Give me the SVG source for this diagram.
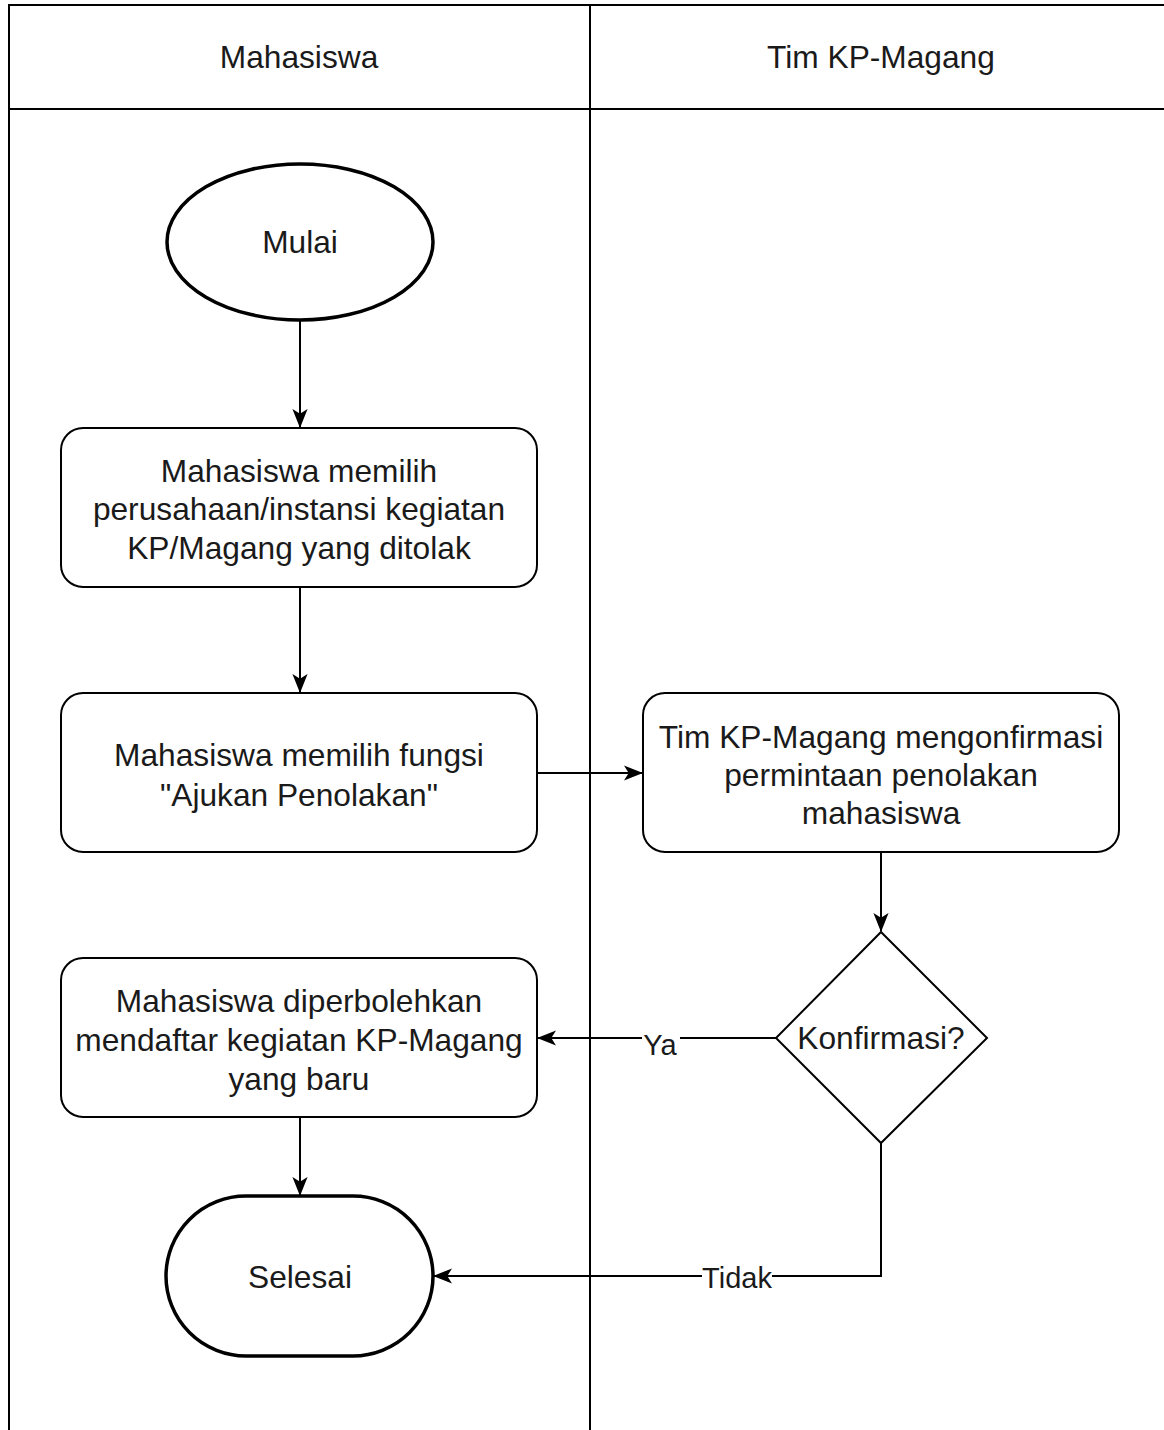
<svg xmlns="http://www.w3.org/2000/svg" width="1164" height="1430" viewBox="0 0 1164 1430">
<defs>
<style>
text{font-family:"Liberation Sans",Arial,sans-serif;font-size:31.7px;fill:#1a1a1a;text-anchor:middle}
.shape{fill:#fff;stroke:#000;stroke-width:2}
.thick{fill:#fff;stroke:#000;stroke-width:3.5}
.edge{fill:none;stroke:#000;stroke-width:2}
.lane{fill:none;stroke:#000;stroke-width:2}
.lbl{font-size:29px}
</style>
<marker id="arr" viewBox="0 0 20 20" refX="19" refY="10" markerWidth="19" markerHeight="19" markerUnits="userSpaceOnUse" orient="auto">
<path d="M0,2 L20,10 L0,18 L5,10 Z" fill="#000"/>
</marker>
</defs>
<rect width="1164" height="1430" fill="#fff"/>
<g id="lanes">
<path class="lane" d="M1164,5 H9 V1430"/>
<path class="lane" d="M9,109 H1164"/>
<path class="lane" d="M590,5 V1430"/>
<text x="299" y="68">Mahasiswa</text>
<text x="881" y="68">Tim KP-Magang</text>
</g>
<g id="connectors">
<path class="edge" d="M300,320 V427" marker-end="url(#arr)"/>
<path class="edge" d="M300,587 V692" marker-end="url(#arr)"/>
<path class="edge" d="M537,773 H642" marker-end="url(#arr)"/>
<path class="edge" d="M881,852 V931" marker-end="url(#arr)"/>
<path class="edge" d="M776,1038 H538" marker-end="url(#arr)"/>
<path class="edge" d="M300,1117 V1195" marker-end="url(#arr)"/>
<path class="edge" d="M881,1143 V1276 H434" marker-end="url(#arr)"/>
<rect x="642" y="1026" width="38" height="26" fill="#fff"/>
<text class="lbl" x="660" y="1055">Ya</text>
<rect x="702" y="1264" width="70" height="26" fill="#fff"/>
<text class="lbl" x="737" y="1288">Tidak</text>
</g>
<g id="mulai">
<ellipse class="thick" cx="300" cy="242" rx="133" ry="78"/>
<text x="300" y="253">Mulai</text>
</g>
<g id="pilih">
<rect class="shape" x="61" y="428" width="476" height="159" rx="22"/>
<text x="299" y="482">Mahasiswa memilih</text>
<text x="299" y="520">perusahaan/instansi kegiatan</text>
<text x="299" y="559">KP/Magang yang ditolak</text>
</g>
<g id="fungsi">
<rect class="shape" x="61" y="693" width="476" height="159" rx="22"/>
<text x="299" y="766">Mahasiswa memilih fungsi</text>
<text x="299" y="806">"Ajukan Penolakan"</text>
</g>
<g id="konfirmasiTim">
<rect class="shape" x="643" y="693" width="476" height="159" rx="22"/>
<text x="881" y="748">Tim KP-Magang mengonfirmasi</text>
<text x="881" y="786">permintaan penolakan</text>
<text x="881" y="824">mahasiswa</text>
</g>
<g id="keputusan">
<path class="shape" d="M881,932 L987,1038 L881,1143 L776,1038 Z"/>
<text x="881" y="1049">Konfirmasi?</text>
</g>
<g id="daftar">
<rect class="shape" x="61" y="958" width="476" height="159" rx="22"/>
<text x="299" y="1012">Mahasiswa diperbolehkan</text>
<text x="299" y="1051">mendaftar kegiatan KP-Magang</text>
<text x="299" y="1090">yang baru</text>
</g>
<g id="selesai">
<rect class="thick" x="166" y="1196" width="267" height="160" rx="80"/>
<text x="300" y="1288">Selesai</text>
</g>
</svg>
